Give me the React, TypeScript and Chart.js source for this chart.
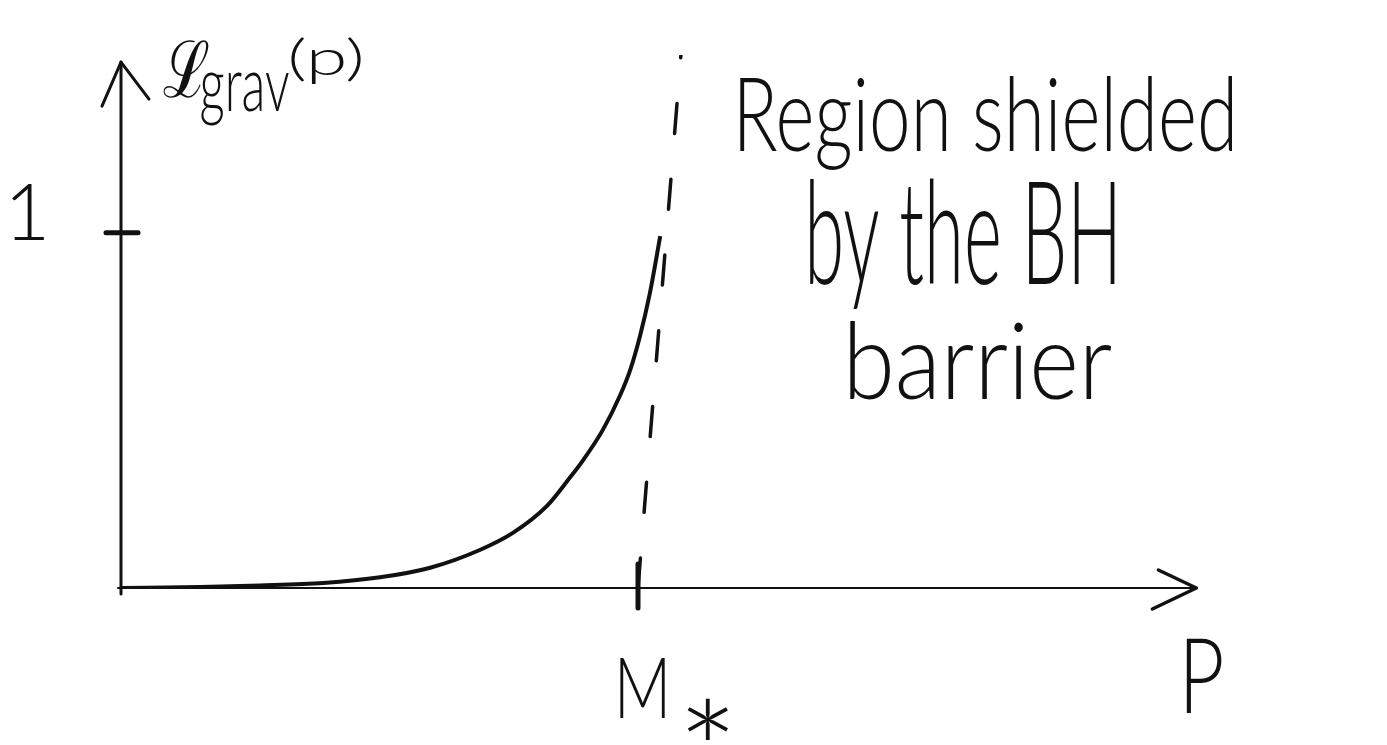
import React, { useEffect, useRef } from 'react';
import { Chart, registerables } from 'chart.js';

Chart.register(...registerables);

// Gravitational factor L_grav(p) rising towards the barrier at p = M*
const curveP = [0, 0.153, 0.269, 0.391, 0.501, 0.598, 0.694, 0.758, 0.824, 0.868, 0.894, 0.932, 0.965, 0.985, 1.004, 1.023, 1.043];
const curveL = [0, 0.003, 0.007, 0.014, 0.03, 0.057, 0.107, 0.155, 0.231, 0.31, 0.36, 0.445, 0.541, 0.614, 0.71, 0.83, 0.99];

// Dashed boundary of the shielded region
const barrierP = [1.0, 1.083];
const barrierL = [0, 1.5];

// Axis marks and labels
const yTickValues = [1];
const yTickLabels = ['1'];
const xTickValues = [1];
const xTickLabels = ['M'];
const xTickSubs = ['*'];
const yTitleParts = ['ℒ', 'grav', '(p)'];
const xTitle = 'P';
const noteLines = ['Region shielded', 'by the BH', 'barrier'];

const X_MAX = 2.1;
const Y_MAX = 1.5;
const X_ARROW = 2.08;
const Y_ARROW = 1.48;

const INK = '#111111';
const FONT = '"Lato", "DejaVu Sans", sans-serif';

// Draws a text so that its ink box fills the given rectangle
function fitText(
  ctx: CanvasRenderingContext2D,
  text: string,
  font: string,
  left: number,
  top: number,
  w: number,
  h: number
) {
  ctx.save();
  ctx.font = font;
  ctx.textAlign = 'left';
  ctx.textBaseline = 'alphabetic';
  const m = ctx.measureText(text);
  const bw = m.actualBoundingBoxLeft + m.actualBoundingBoxRight;
  const bh = m.actualBoundingBoxAscent + m.actualBoundingBoxDescent;
  ctx.translate(left, top);
  ctx.scale(w / bw, h / bh);
  ctx.fillStyle = INK;
  ctx.fillText(text, m.actualBoundingBoxLeft, m.actualBoundingBoxAscent);
  ctx.restore();
}

const sketchAxes = {
  id: 'sketchAxes',
  afterDatasetsDraw(chart: any) {
    const ctx: CanvasRenderingContext2D = chart.ctx;
    const xs = chart.scales.x;
    const ys = chart.scales.y;
    const x0 = xs.getPixelForValue(0);
    const y0 = ys.getPixelForValue(0);
    const xEnd = xs.getPixelForValue(X_ARROW);
    const yEnd = ys.getPixelForValue(Y_ARROW);

    ctx.save();
    ctx.strokeStyle = INK;
    ctx.lineCap = 'round';
    ctx.lineJoin = 'round';

    // horizontal axis with open arrowhead
    ctx.lineWidth = 2;
    ctx.beginPath();
    ctx.moveTo(x0 - 3, y0);
    ctx.lineTo(xEnd, y0);
    ctx.stroke();
    ctx.lineWidth = 3.5;
    ctx.beginPath();
    ctx.moveTo(xEnd - 38, y0 - 18);
    ctx.lineTo(xEnd, y0);
    ctx.lineTo(xEnd - 44, y0 + 21);
    ctx.stroke();

    // vertical axis with open arrowhead
    ctx.lineWidth = 3;
    ctx.beginPath();
    ctx.moveTo(x0, y0 + 6);
    ctx.lineTo(x0, yEnd);
    ctx.stroke();
    ctx.lineWidth = 3;
    ctx.beginPath();
    ctx.moveTo(x0 - 19, yEnd + 44);
    ctx.lineTo(x0, yEnd);
    ctx.lineTo(x0 + 28, yEnd + 37);
    ctx.stroke();

    // tick marks
    ctx.lineWidth = 5;
    yTickValues.forEach((v) => {
      const py = ys.getPixelForValue(v);
      ctx.beginPath();
      ctx.moveTo(x0 - 15, py);
      ctx.lineTo(x0 + 17, py);
      ctx.stroke();
    });
    xTickValues.forEach((v) => {
      const px = xs.getPixelForValue(v);
      ctx.beginPath();
      ctx.moveTo(px, y0 - 24);
      ctx.lineTo(px, y0 + 20);
      ctx.stroke();
    });
    ctx.restore();

    const thin = `300 100px ${FONT}`;

    // tick labels
    yTickValues.forEach((v, i) => {
      const py = ys.getPixelForValue(v);
      fitText(ctx, yTickLabels[i], thin, x0 - 109, py - 50, 32, 57);
    });
    xTickValues.forEach((v, i) => {
      const px = xs.getPixelForValue(v);
      fitText(ctx, xTickLabels[i], thin, px - 18, y0 + 69, 45, 61);
      fitText(ctx, xTickSubs[i], thin, px + 49, y0 + 109, 41, 43);
    });

    // axis titles
    fitText(ctx, yTitleParts[0], thin, x0 + 43, yEnd - 22, 45, 58);
    fitText(ctx, yTitleParts[1], thin, x0 + 80, yEnd + 10, 88, 54);
    fitText(ctx, yTitleParts[2], thin, x0 + 170, yEnd - 24, 70, 46);
    fitText(ctx, xTitle, thin, xEnd - 10, y0 + 50, 35, 75);

    // annotation to the right of the barrier
    fitText(ctx, noteLines[0], thin, 740, 75, 492, 95);
    fitText(ctx, noteLines[1], thin, 810, 178, 305, 132);
    fitText(ctx, noteLines[2], thin, 850, 320, 262, 80);
  },
};

export default function App() {
  const canvasRef = useRef<HTMLCanvasElement | null>(null);

  useEffect(() => {
    const canvas = canvasRef.current;
    if (!canvas) return;
    const width = 1387;
    const xUnit = 517;
    const left = 121;
    const bottom = 745 - 588;
    const top = 55;
    const right = width - left - X_MAX * xUnit;

    const chart = new Chart(canvas, {
      type: 'line',
      data: {
        datasets: [
          {
            label: 'L_grav',
            data: curveP.map((p, i) => ({ x: p, y: curveL[i] })),
            borderColor: INK,
            borderWidth: 4,
            pointRadius: 0,
            cubicInterpolationMode: 'monotone',
            fill: false,
          },
          {
            label: 'barrier',
            data: barrierP.map((p, i) => ({ x: p, y: barrierL[i] })),
            borderColor: INK,
            borderWidth: 3.5,
            borderDash: [30, 46],
            borderCapStyle: 'round',
            pointRadius: 0,
            fill: false,
          },
        ],
      },
      options: {
        responsive: false,
        animation: false,
        events: [],
        layout: { padding: { left, right, top, bottom } },
        plugins: {
          legend: { display: false },
          tooltip: { enabled: false },
          title: { display: false },
        },
        scales: {
          x: { type: 'linear', min: 0, max: X_MAX, display: false },
          y: { type: 'linear', min: 0, max: Y_MAX, display: false },
        },
      },
      plugins: [sketchAxes],
    });
    return () => chart.destroy();
  }, []);

  return (
    <div style={{ position: 'fixed', left: 0, top: 0, width: 1387, height: 745, background: '#ffffff' }}>
      <canvas ref={canvasRef} width={1387} height={745} />
    </div>
  );
}
